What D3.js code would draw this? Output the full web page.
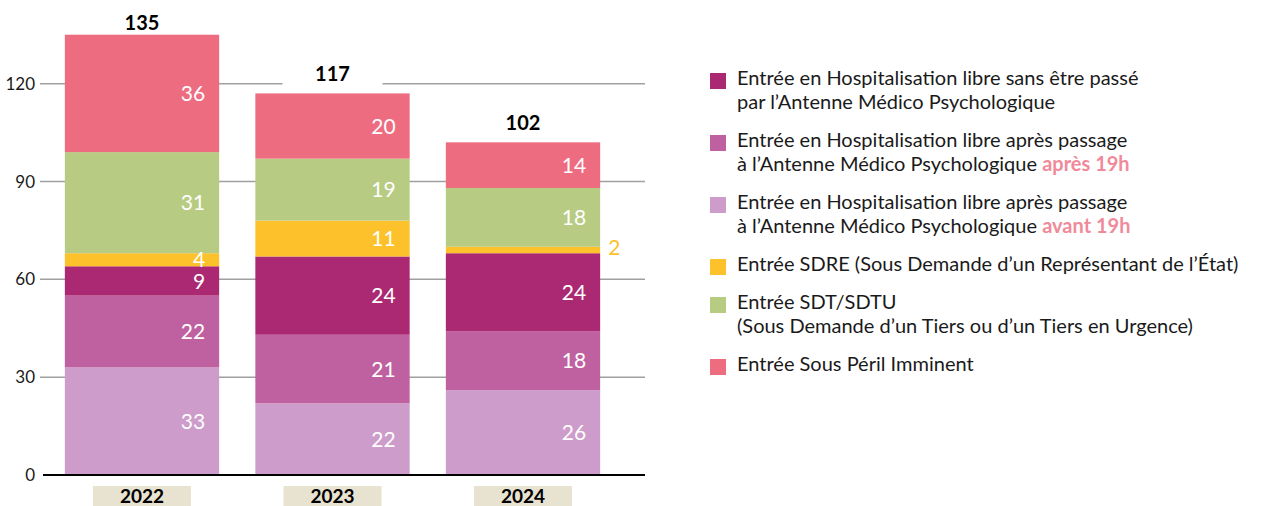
<!DOCTYPE html>
<html>
<head>
<meta charset="utf-8">
<script src="https://cdn.jsdelivr.net/npm/d3@7"></script>
<style>
  body { margin: 0; background: #fff; }
  svg { display: block; font-family: Lato, "Noto Sans", sans-serif; }
</style>
</head>
<body>
<script>
// data, bottom of the stack first
var years = ["2022", "2023", "2024"];
var keys = ["avant", "apres", "sans", "sdre", "sdt", "peril"];
var avant19h = [33, 22, 26];
var apres19h = [22, 21, 18];
var sansAMP = [9, 24, 24];
var sdre = [4, 11, 2];
var sdt = [31, 19, 18];
var peril = [36, 20, 14];
var yTicks = [0, 30, 60, 90, 120];

var colors = {
  avant: "#ce9cca", apres: "#bf61a0", sans: "#ab2973",
  sdre: "#fcc12b", sdt: "#b7cb83", peril: "#ed6c80"
};

// legend, top to bottom; [text, highlighted]
var legendKeys = ["sans", "apres", "avant", "sdre", "sdt", "peril"];
var legendLines = [
  [[["Entrée en Hospitalisation libre sans être passé", false]],
   [["par l’Antenne Médico Psychologique", false]]],
  [[["Entrée en Hospitalisation libre après passage", false]],
   [["à l’Antenne Médico Psychologique ", false], ["après 19h", true]]],
  [[["Entrée en Hospitalisation libre après passage", false]],
   [["à l’Antenne Médico Psychologique ", false], ["avant 19h", true]]],
  [[["Entrée SDRE (Sous Demande d’un Représentant de l’État)", false]]],
  [[["Entrée SDT/SDTU", false]],
   [["(Sous Demande d’un Tiers ou d’un Tiers en Urgence)", false]]],
  [[["Entrée Sous Péril Imminent", false]]]
];

var table = years.map(function(y, i) {
  return {year: y, avant: avant19h[i], apres: apres19h[i], sans: sansAMP[i],
          sdre: sdre[i], sdt: sdt[i], peril: peril[i]};
});

var width = 1267, height = 506;
var svg = d3.select("body").append("svg")
  .attr("width", width).attr("height", height);

var x = d3.scaleBand().domain(years)
  .range([46.75, 618.25])
  .paddingInner(0.19).paddingOuter(0.095);

var y = d3.scaleLinear().domain([0, 140]).range([475, 18.4]);

// gridlines
svg.append("g").selectAll("line")
  .data(yTicks.filter(function(d) { return d > 0; }))
  .enter().append("line")
  .attr("x1", 40).attr("x2", 645)
  .attr("y1", function(d) { return y(d); })
  .attr("y2", function(d) { return y(d); })
  .attr("stroke", "#a0a0a0").attr("stroke-width", 1.5);

// y tick labels
svg.append("g").selectAll("text")
  .data(yTicks).enter().append("text")
  .attr("x", 35).attr("y", function(d) { return y(d); })
  .attr("dy", "0.36em")
  .attr("text-anchor", "end")
  .attr("font-size", "17px").attr("fill", "#1a1a1a")
  .text(function(d) { return d; });

var stacked = d3.stack().keys(keys)(table);
var topLayer = stacked[stacked.length - 1];

function totalBaseline(d) { return Math.max(y(d[1]) - 12, 30); }
function barCenter(d) { return x(d.data.year) + x.bandwidth() / 2; }

// white boxes behind the totals hide the gridline (drawn under the bars)
svg.append("g").selectAll("rect")
  .data(topLayer).enter().append("rect")
  .attr("x", function(d) { return barCenter(d) - 50; })
  .attr("y", function(d) { return totalBaseline(d) - 20; })
  .attr("width", 100).attr("height", 28)
  .attr("fill", "#fff");

var layer = svg.append("g").selectAll("g")
  .data(stacked).enter().append("g")
  .attr("fill", function(d) { return colors[d.key]; });

layer.selectAll("rect")
  .data(function(d) { return d; })
  .enter().append("rect")
  .attr("x", function(d) { return x(d.data.year); })
  .attr("width", x.bandwidth())
  .attr("y", function(d) { return y(d[1]); })
  .attr("height", function(d) { return y(d[0]) - y(d[1]); });

// segment values
stacked.forEach(function(s) {
  s.forEach(function(d) {
    var v = d[1] - d[0];
    var small = v < 3;
    svg.append("text")
      .attr("x", small ? x(d.data.year) + x.bandwidth() + 8 : x(d.data.year) + x.bandwidth() - 14)
      .attr("y", (y(d[0]) + y(d[1])) / 2 - (small ? 3 : 0))
      .attr("dy", "0.36em")
      .attr("text-anchor", small ? "start" : "end")
      .attr("font-size", "21px")
      .attr("fill", small ? colors[s.key] : "#fff")
      .text(v);
  });
});

// totals
svg.append("g").selectAll("text")
  .data(topLayer).enter().append("text")
  .attr("x", barCenter)
  .attr("y", totalBaseline)
  .attr("text-anchor", "middle")
  .attr("font-size", "20px").attr("font-weight", 700)
  .attr("fill", "#000")
  .text(function(d) { return d[1]; });

// zero line
svg.append("line")
  .attr("x1", 43).attr("x2", 645)
  .attr("y1", y(0)).attr("y2", y(0))
  .attr("stroke", "#000").attr("stroke-width", 2);

// year labels
var yr = svg.append("g").selectAll("g")
  .data(years).enter().append("g")
  .attr("transform", function(d) { return "translate(" + (x(d) + x.bandwidth() / 2) + ",0)"; });
yr.append("rect")
  .attr("x", -49).attr("y", 486)
  .attr("width", 98).attr("height", 22)
  .attr("fill", "#e8e2d0");
yr.append("text")
  .attr("y", 503)
  .attr("text-anchor", "middle")
  .attr("font-size", "19px").attr("font-weight", 700)
  .attr("fill", "#000")
  .text(function(d) { return d; });

// legend
var lg = svg.append("g");
var baseline = 85;
legendLines.forEach(function(item, i) {
  lg.append("rect")
    .attr("x", 710).attr("y", baseline - 12)
    .attr("width", 16).attr("height", 16)
    .attr("fill", colors[legendKeys[i]]);
  item.forEach(function(line, j) {
    var t = lg.append("text")
      .attr("x", 737).attr("y", baseline + j * 24)
      .attr("font-size", "20px").attr("fill", "#1a1a1a");
    line.forEach(function(part) {
      t.append("tspan")
        .attr("font-weight", part[1] ? 700 : 400)
        .attr("fill", part[1] ? "#f08a9a" : "#1a1a1a")
        .text(part[0]);
    });
  });
  baseline += (item.length - 1) * 24 + 38;
});
</script>
</body>
</html>
